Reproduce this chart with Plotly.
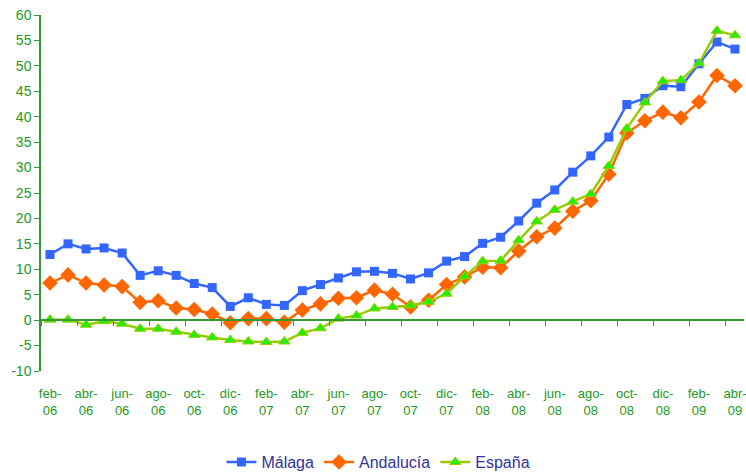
import plotly.graph_objects as go

# Monthly series, feb-06 .. abr-09
months = ["feb-06", "mar-06", "abr-06", "may-06", "jun-06", "jul-06", "ago-06", "sep-06",
          "oct-06", "nov-06", "dic-06", "ene-07", "feb-07", "mar-07", "abr-07", "may-07",
          "jun-07", "jul-07", "ago-07", "sep-07", "oct-07", "nov-07", "dic-07", "ene-08",
          "feb-08", "mar-08", "abr-08", "may-08", "jun-08", "jul-08", "ago-08", "sep-08",
          "oct-08", "nov-08", "dic-08", "ene-09", "feb-09", "mar-09", "abr-09"]

malaga = [12.9, 15.0, 14.0, 14.2, 13.2, 8.8, 9.7, 8.8, 7.2, 6.4, 2.7, 4.4,
          3.1, 2.9, 5.8, 7.0, 8.3, 9.5, 9.6, 9.2, 8.1, 9.3, 11.6, 12.5,
          15.1, 16.3, 19.5, 23.0, 25.6, 29.1, 32.3, 36.0, 42.4, 43.6, 46.1, 45.9,
          50.4, 54.7, 53.3]

andalucia = [7.3, 8.9, 7.3, 6.9, 6.6, 3.5, 3.8, 2.4, 2.1, 1.2, -0.5, 0.3,
             0.3, -0.4, 2.0, 3.2, 4.3, 4.4, 5.9, 5.1, 2.6, 3.9, 7.0, 8.5,
             10.4, 10.3, 13.6, 16.4, 18.1, 21.4, 23.5, 28.7, 36.8, 39.2, 40.9, 39.8,
             42.9, 48.1, 46.1]

espana = [0.1, 0.1, -0.9, -0.2, -0.7, -1.7, -1.7, -2.3, -2.9, -3.4, -3.9, -4.2,
          -4.3, -4.2, -2.5, -1.6, 0.3, 0.9, 2.3, 2.6, 2.9, 3.6, 5.2, 8.6,
          11.6, 11.7, 15.7, 19.4, 21.7, 23.3, 24.8, 30.3, 37.7, 42.8, 47.0, 47.2,
          50.5, 56.9, 56.0]

y_ticks = list(range(-10, 61, 5))
x_label_every = 2

AXIS_GREEN = "#339933"
TEXT_GREEN = "#229922"
FONT = "Liberation Sans, Arial, sans-serif"

x = list(range(len(months)))
tick_pos = x[::x_label_every]
tick_txt = [m.replace("-", "-<br>") for m in months[::x_label_every]]

fig = go.Figure()
fig.add_trace(go.Scatter(
    x=x, y=malaga, name="Málaga", mode="lines+markers",
    line=dict(color="#3366ff", width=2.5),
    marker=dict(symbol="square", size=9, color="#3366ff"),
))
fig.add_trace(go.Scatter(
    x=x, y=andalucia, name="Andalucía", mode="lines+markers",
    line=dict(color="#ff6600", width=2.5),
    marker=dict(symbol="diamond", size=12, color="#ff6600"),
))
fig.add_trace(go.Scatter(
    x=x, y=espana, name="España", mode="lines+markers",
    line=dict(color="#99cc00", width=2.5),
    marker=dict(symbol="triangle-up", size=10, color="#22ee00",
                line=dict(color="#99cc00", width=1)),
))

ymin, ymax = y_ticks[0], y_ticks[-1]
zero_pos = (0 - ymin) / (ymax - ymin)

fig.update_layout(
    width=746, height=473,
    template="none",
    paper_bgcolor="white", plot_bgcolor="white",
    margin=dict(l=41, r=2, t=15, b=102, autoexpand=False),
    font=dict(family=FONT, color=TEXT_GREEN, size=14),
    showlegend=True,
    legend=dict(orientation="h", x=0.48, xanchor="center", y=-0.256, yanchor="middle",
                font=dict(family=FONT, color="#333399", size=16),
                itemwidth=30, tracegroupgap=0, traceorder="normal"),
    xaxis=dict(
        range=[-0.5, len(months) - 0.5],
        tickmode="array", tickvals=tick_pos, ticktext=tick_txt,
        showgrid=False, zeroline=False, showline=False,
        ticks="outside", ticklen=10, tickcolor="rgba(0,0,0,0)",
        ticklabeloverflow="allow",
        tickfont=dict(family=FONT, color=TEXT_GREEN, size=13),
        automargin=False, fixedrange=True,
    ),
    xaxis2=dict(
        overlaying="x", anchor="free", position=zero_pos, side="bottom",
        range=[-0.5, len(months) - 0.5],
        tickmode="array", tickvals=[v - 0.5 for v in tick_pos],
        showticklabels=False, ticks="outside", ticklen=5, tickwidth=1, tickcolor=AXIS_GREEN,
        showline=True, linecolor=AXIS_GREEN, linewidth=1.5,
        showgrid=False, zeroline=False, automargin=False,
    ),
    yaxis=dict(
        range=[ymin, ymax], tickmode="array", tickvals=y_ticks,
        ticktext=[str(v) for v in y_ticks],
        showgrid=False, zeroline=False,
        showline=True, linecolor=AXIS_GREEN, linewidth=1.5,
        ticks="outside", ticklen=5, tickcolor=AXIS_GREEN,
        tickfont=dict(family=FONT, color=TEXT_GREEN, size=14),
        automargin=False, fixedrange=True,
    ),
)

# invisible trace to attach the zero-line axis
fig.add_trace(go.Scatter(x=[x[0]], y=[0], xaxis="x2", mode="markers",
                         marker=dict(opacity=0), showlegend=False, hoverinfo="skip"))

fig.write_html("out.html")
